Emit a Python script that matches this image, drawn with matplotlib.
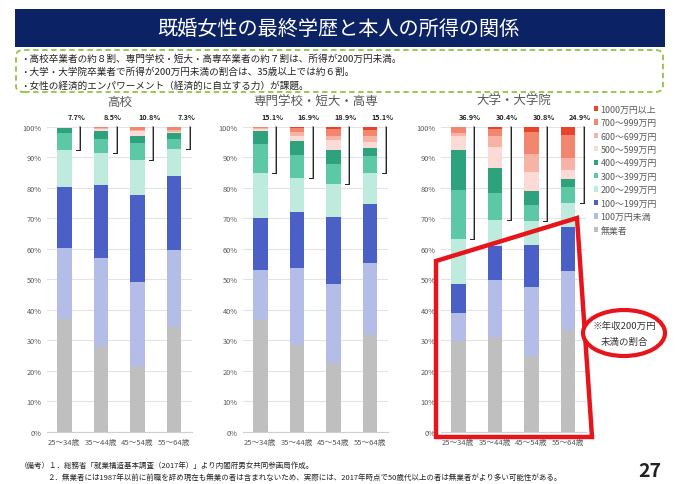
import matplotlib
matplotlib.use('Agg')
import matplotlib.pyplot as plt
from matplotlib.patches import Polygon, Ellipse, FancyBboxPatch, Rectangle

plt.rcParams['font.family'] = ['Noto Sans CJK JP', 'DejaVu Sans']

# age groups and income bands (bottom to top of each bar)
ages = ['25～34歳', '35～44歳', '45～54歳', '55～64歳']
bands = ['無業者', '100万円未満', '100～199万円', '200～299万円', '300～399万円',
         '400～499万円', '500～599万円', '600～699万円', '700～999万円', '1000万円以上']
colors = ['#BFBFBF', '#B3BDE8', '#4A60C6', '#BEEBDD', '#5CC8A6',
          '#2EA17D', '#FCDBD6', '#F8B3A7', '#F2866E', '#E8442A']

panel_titles = ['高校', '専門学校・短大・高専', '大学・大学院']

# shares (%) by band, one row per band, one column per age group
high_school = [
    [36.9, 28.2, 21.6, 34.4],
    [23.3, 28.9, 27.5, 25.3],
    [20.2, 23.9, 28.4, 24.1],
    [11.9, 10.5, 11.7, 8.9],
    [5.5, 4.5, 5.4, 3.3],
    [1.7, 2.5, 2.5, 1.8],
    [0.3, 0.6, 1.4, 0.6],
    [0.1, 0.4, 0.5, 0.5],
    [0.1, 0.4, 0.8, 0.9],
    [0.0, 0.1, 0.2, 0.2],
]
college = [
    [36.6, 28.6, 22.6, 31.7],
    [16.6, 25.0, 26.0, 23.6],
    [16.8, 18.4, 21.8, 19.5],
    [14.9, 11.1, 10.7, 10.1],
    [9.4, 7.6, 6.7, 5.4],
    [4.2, 4.7, 4.7, 2.7],
    [0.9, 1.5, 3.0, 2.0],
    [0.3, 1.3, 1.6, 2.0],
    [0.2, 1.3, 2.1, 2.0],
    [0.1, 0.5, 0.8, 1.0],
]
university = [
    [29.7, 31.1, 24.8, 33.3],
    [9.3, 18.8, 22.7, 19.3],
    [9.6, 10.9, 13.6, 14.5],
    [14.5, 8.8, 8.1, 8.0],
    [16.3, 8.7, 5.3, 5.0],
    [12.9, 8.2, 4.6, 2.9],
    [4.5, 6.7, 6.0, 2.9],
    [1.2, 3.8, 6.0, 3.8],
    [1.8, 2.2, 7.1, 7.6],
    [0.2, 0.8, 1.8, 2.7],
]
panels = [high_school, college, university]

W, H = 680, 485
fig = plt.figure(figsize=(W / 100, H / 100), dpi=100)
gray = '#595959'


def fx(x):
    return x / W


def fy(y):
    return 1 - y / H


# title bar
fig.patches.append(Rectangle((fx(15), fy(48)), fx(650), 38 / H, transform=fig.transFigure,
                             facecolor='#0B2264', edgecolor='none'))
fig.text(fx(338), fy(29), '既婚女性の最終学歴と本人の所得の関係', color='white',
         fontsize=14.5, ha='center', va='center')

# summary box
fig.patches.append(FancyBboxPatch((fx(16), fy(93)), fx(647), 42 / H, transform=fig.transFigure,
                                  boxstyle='round,pad=0,rounding_size=0.012',
                                  facecolor='none', edgecolor='#8DC63F', lw=1.3, ls=(0, (3, 2))))
notes = ['・高校卒業者の約８割、専門学校・短大・高専卒業者の約７割は、所得が200万円未満。',
         '・大学・大学院卒業者で所得が200万円未満の割合は、35歳以上では約６割。',
         '・女性の経済的エンパワーメント（経済的に自立する力）が課題。']
for k, t in enumerate(notes):
    fig.text(fx(20), fy(59 + k * 13.5), t, fontsize=6.9, va='center', color='#222222')

lefts = [47, 243, 441]
handles = []
for p, data in enumerate(panels):
    ax = fig.add_axes([fx(lefts[p]), fy(433), 145 / W, 305.3 / H])
    x = list(range(len(ages)))
    bottom = [0.0] * len(ages)
    for b, row in enumerate(data):
        bars = ax.bar(x, row, 0.4, bottom=bottom, color=colors[b], edgecolor='none', zorder=2)
        if p == 0:
            handles.append(bars)
        bottom = [bottom[i] + row[i] for i in range(len(ages))]
    ax.set_xlim(-0.47, 3.49)
    ax.set_ylim(0, 100)
    ax.set_yticks(range(0, 101, 10))
    ax.set_yticklabels([f'{v}%' for v in range(0, 101, 10)], fontsize=5.3, color=gray)
    ax.set_xticks(x)
    ax.set_xticklabels(ages, fontsize=5.5, color=gray)
    ax.tick_params(length=0, pad=4)
    ax.grid(axis='y', color='#E3E3E3', lw=0.8, zorder=0)
    for s in ['top', 'right', 'left']:
        ax.spines[s].set_visible(False)
    ax.spines['bottom'].set_color('#CFCFCF')
    ax.set_title(panel_titles[p], fontsize=9, color=gray, pad=16)

    # share of 300万円 and above, with bracket
    for i in x:
        share = sum(row[i] for row in data[4:])
        low = 100 - share
        bx = i + 0.43
        ax.plot([bx, bx], [100, low], color='#A5A5A5', lw=1.4, clip_on=False, zorder=3)
        ax.plot([bx, bx, i + 0.32], [100, low, low], color='#222222', lw=0.7,
                clip_on=False, zorder=4)
        ax.text(i + 0.33, 103.2, f'{share:.1f}%', fontsize=5.2, ha='center', va='center',
                color='#222222', fontweight='bold', clip_on=False)

# legend, top band first
fig.legend(handles[::-1], bands[::-1], loc='upper left', bbox_to_anchor=(fx(590), fy(102)),
           frameon=False, fontsize=6.4, handlelength=0.55, handleheight=0.55,
           handletextpad=0.25, labelspacing=0.5, labelcolor=gray, borderaxespad=0)

# red outline of the under-200万円 share
fig.patches.append(Polygon([(fx(436), fy(262)), (fx(577), fy(219)), (fx(592), fy(438)),
                            (fx(436), fy(438))], closed=True, transform=fig.transFigure,
                           facecolor='none', edgecolor='#E8141C', lw=3.2, zorder=10))
fig.patches.append(Ellipse((fx(624), fy(334)), 82 / W, 46 / H, transform=fig.transFigure,
                           facecolor='white', edgecolor='#E8141C', lw=3, zorder=10))
fig.text(fx(624), fy(326), '※年収200万円', fontsize=6.8, ha='center', va='center',
         color='#333333', zorder=11)
fig.text(fx(624), fy(342), '未満の割合', fontsize=6.8, ha='center', va='center',
         color='#333333', zorder=11)

# footnotes
fig.text(fx(20), fy(466), '（備考）１．総務省「就業構造基本調査（2017年）」より内閣府男女共同参画局作成。',
         fontsize=5.4, va='center', color='#222222')
fig.text(fx(47), fy(478), '２．無業者には1987年以前に前職を辞め現在も無業の者は含まれないため、実際には、'
         '2017年時点で50歳代以上の者は無業者がより多い可能性がある。',
         fontsize=5.4, va='center', color='#222222')
fig.text(fx(650), fy(472), '27', fontsize=14, fontweight='bold', ha='center', va='center',
         color='#222222')

fig.savefig('out.png', dpi=100)
